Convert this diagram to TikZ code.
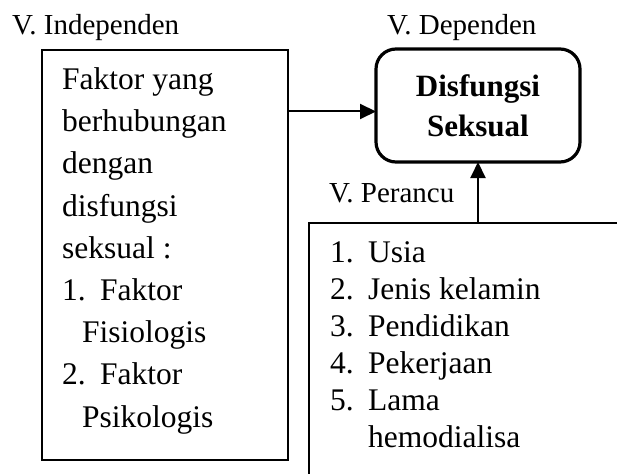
\documentclass[tikz,border=0pt]{standalone}
\usepackage{fontspec}
\setmainfont{Liberation Serif}
\usetikzlibrary{arrows.meta}
\begin{document}
\begin{tikzpicture}
		[x=1pt, y=-1pt,
		box/.style={draw=black, line width=2pt, inner sep=0pt, outer sep=0pt, anchor=north west},
		dvbox/.style={draw=black, line width=3.2pt, outer sep=0pt, rounded corners=20pt, minimum width=204pt, minimum height=113pt, align=center, font=\fontsize{31}{40}\selectfont\bfseries},
		lab/.style={inner sep=0pt, anchor=base west, font=\fontsize{29}{35}\selectfont},
		txt/.style={inner sep=0pt, anchor=base west, align=left},
		arr/.style={-{Triangle[length=16pt, width=15pt]}, line width=2pt}]
		\useasboundingbox (0,0) rectangle (617,473);
		\clip (0,0) rectangle (617,473);

		\node[box, minimum width=246pt, minimum height=410pt] (iv) at (42,50) {};
		\node[box, minimum width=400pt, minimum height=300pt] (cv) at (309,222.7) {};
		\node[dvbox] (dv) at (478,105.5) {Disfungsi\\Seksual};

		\node[lab] (ivl) at (12,35) {V. Independen};
		\node[lab] (dvl) at (387,35) {V. Dependen};
		\node[lab] (cvl) at (329,202) {V. Perancu};

		\node[txt, font=\fontsize{31.5}{42.2}\selectfont] (ivt) at (62,427)
			{Faktor yang\\berhubungan\\dengan\\disfungsi\\seksual :\\
			\makebox[38pt][l]{1.}Faktor\\\hspace*{20pt}Fisiologis\\
			\makebox[38pt][l]{2.}Faktor\\\hspace*{20pt}Psikologis};
		\node[txt, font=\fontsize{31.5}{36.9}\selectfont] (cvt) at (330,447.2)
			{\makebox[38pt][l]{1.}Usia\\\makebox[38pt][l]{2.}Jenis kelamin\\
			\makebox[38pt][l]{3.}Pendidikan\\\makebox[38pt][l]{4.}Pekerjaan\\
			\makebox[38pt][l]{5.}Lama\\\hspace*{38pt}hemodialisa};

		\coordinate (a) at ([yshift=-6pt]dv.west);
		\draw[arr] (iv.east |- a) -- (a);
		\draw[arr] (dv.south |- cv.north) -- (dv.south);
	\end{tikzpicture}
\end{document}
